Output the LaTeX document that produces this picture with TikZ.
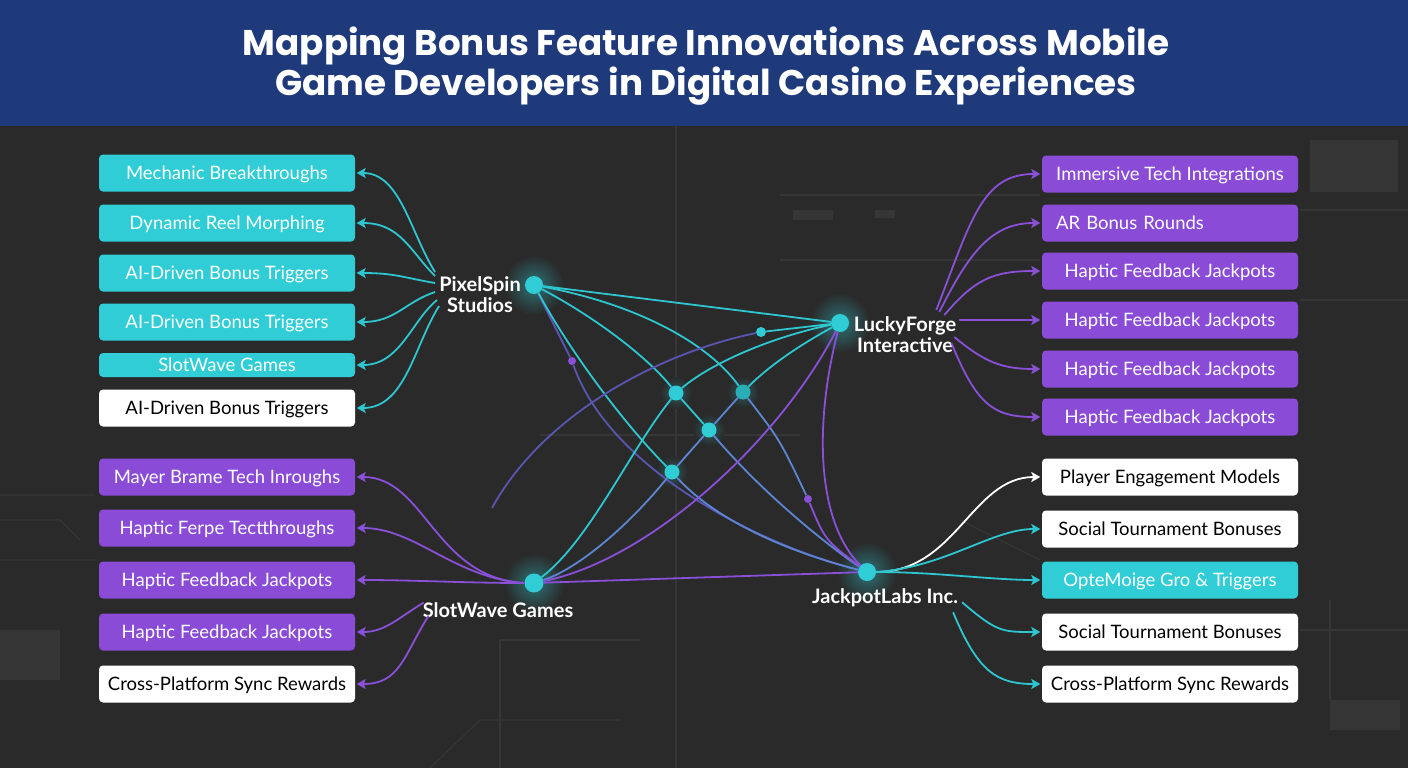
\documentclass[tikz,border=0pt]{standalone}
\usepackage{fontspec}
\setmainfont{Lato}
\newfontfamily\titlefont{Poppins}
\usetikzlibrary{arrows.meta,calc}
\definecolor{bg}{HTML}{2A2A2A}
\definecolor{banner}{HTML}{1F3A7A}
\definecolor{tealc}{HTML}{30CDD6}
\definecolor{purp}{HTML}{8A4CD6}
\definecolor{tline}{HTML}{2EC6D0}
\definecolor{pline}{HTML}{8A50D8}
\definecolor{bline}{HTML}{5C86D2}
\definecolor{dline}{HTML}{5A55B0}
\definecolor{faint}{HTML}{363636}
\begin{document}
\begin{tikzpicture}[x=1pt,y=-1pt,
 box/.style={rounded corners=4, minimum width=256, minimum height=37, inner sep=0, text height=13.3, text depth=0, font=\fontsize{18.5}{21}\selectfont},
 tbox/.style={box, fill=tealc, text=white},
 pbox/.style={box, fill=purp, text=white},
 wbox/.style={box, fill=white, text=black},
 hub/.style={circle, fill=tealc, minimum size=18, inner sep=0},
 mid/.style={circle, fill=tealc, minimum size=15, inner sep=0},
 sdot/.style={circle, minimum size=8, inner sep=0},
 hlabel/.style={font=\bfseries\fontsize{20}{21}\selectfont, text=white, align=center, inner sep=1},
 conn/.style={line width=1.8, -{Stealth[length=9,width=10,inset=2]}, shorten >=1.5},
 web/.style={line width=1.8},
 deco/.style={faint, line width=1.2},
]
\useasboundingbox (0,0) rectangle (1408,768);
\fill[bg] (0,0) rectangle (1408,768);
% faint background circuitry
\draw[deco] (676,126) -- (676,768);
\draw[deco] (540,435) -- (800,435);
\draw[deco] (0,495) -- (95,495) (0,520) -- (60,520) -- (80,540) (0,560) -- (95,560);
\draw[deco] (500,640) -- (500,768) (500,640) -- (640,640);
\draw[deco] (780,195) -- (1040,195) (780,260) -- (1040,260);
\draw[deco] (1300,210) -- (1408,210) (1300,300) -- (1408,300);
\draw[deco] (1300,630) -- (1408,630) (1330,600) -- (1330,700);
\draw[deco] (430,768) -- (480,720) -- (620,720);
\draw[deco] (960,520) .. controls (1000,540) .. (1040,560);
\fill[faint] (1310,140) rectangle (1398,192);
\fill[faint] (793,210) rectangle (833,220);
\fill[faint] (875,210) rectangle (895,218);
\fill[faint] (0,630) rectangle (60,680);
\fill[faint] (1330,700) rectangle (1400,730);
% banner
\fill[banner] (0,0) rectangle (1408,126);
\node[text=white, font=\titlefont\bfseries\fontsize{35.7}{38}\selectfont, align=center] (title) at (706,66)
 {Mapping Bonus Feature Innovations Across Mobile\\Game Developers in Digital Casino Experiences};

% left boxes
\node[tbox] (l1) at (227,173) {Mechanic Breakthroughs};
\node[tbox] (l2) at (227,223) {Dynamic Reel Morphing};
\node[tbox] (l3) at (227,273) {AI-Driven Bonus Triggers};
\node[tbox] (l4) at (227,322) {AI-Driven Bonus Triggers};
\node[tbox, minimum height=24] (l5) at (227,365) {SlotWave Games};
\node[wbox] (l6) at (227,408) {AI-Driven Bonus Triggers};
\node[pbox] (b1) at (227,477) {Mayer Brame Tech Inroughs};
\node[pbox] (b2) at (227,528) {Haptic Ferpe Tectthroughs};
\node[pbox] (b3) at (227,580) {Haptic Feedback Jackpots};
\node[pbox] (b4) at (227,632) {Haptic Feedback Jackpots};
\node[wbox] (b5) at (227,684) {Cross-Platform Sync Rewards};
% right boxes
\node[pbox] (r1) at (1170,174) {Immersive Tech Integrations};
\node[pbox, text width=228, inner xsep=14, align=left] (r2) at (1170,223) {AR Bonus Rounds};
\node[pbox] (r3) at (1170,271) {Haptic Feedback Jackpots};
\node[pbox] (r4) at (1170,320) {Haptic Feedback Jackpots};
\node[pbox] (r5) at (1170,369) {Haptic Feedback Jackpots};
\node[pbox] (r6) at (1170,417) {Haptic Feedback Jackpots};
\node[wbox] (p1) at (1170,477) {Player Engagement Models};
\node[wbox] (p2) at (1170,529) {Social Tournament Bonuses};
\node[tbox] (p3) at (1170,580) {OpteMoige Gro \& Triggers};
\node[wbox] (p4) at (1170,632) {Social Tournament Bonuses};
\node[wbox] (p5) at (1170,684) {Cross-Platform Sync Rewards};

% glows
\foreach \p in {(534,285),(840,323),(534,583),(867,572)}
  \shade[inner color=tealc!45!bg, outer color=bg] \p circle (30);
\foreach \p in {(676,393),(743,392),(709,430),(672,472)}
  \shade[inner color=tealc!30!bg, outer color=bg] \p circle (16);

% hubs
\node[hub] (ps) at (534,285) {};
\node[hub] (lf) at (840,323) {};
\node[hub, minimum size=19] (sw) at (534,583) {};
\node[hub] (jl) at (867,572) {};
\node[hlabel] (psl) at (480,295) {PixelSpin\\Studios};
\node[hlabel] (lfl) at (905,335) {LuckyForge\\Interactive};
\node[hlabel, anchor=base] (swl) at (498,617) {SlotWave Games};
\node[hlabel, anchor=base] (jll) at (885,603) {JackpotLabs Inc.};
% intermediate dots
\node[mid] (d1) at (676,393) {};
\node[mid, fill=tealc!85!black] (d2) at (743,392) {};
\node[mid] (d3) at (709,430) {};
\node[mid] (d4) at (672,472) {};
\node[sdot, fill=tealc, minimum size=10] (st) at (761,332) {};
\node[sdot, fill=pline] (pp1) at (572,361) {};
\node[sdot, fill=pline] (pp2) at (808,499) {};
\coordinate (fe) at (492,508);

% web
\draw[web, tline] (ps) -- (lf);
\draw[web, dline] (ps) -- (pp1);
\draw[web, dline] (pp1) .. controls (610,470) and (760,545) .. (jl);
\draw[web, tline] (ps) .. controls (575,360) and (630,430) .. (d4);
\draw[web, bline] (d4) .. controls (720,525) and (800,555) .. (jl);
\draw[web, tline] (ps) .. controls (600,320) and (650,360) .. (d1);
\draw[web, tline] (d1) -- (d3);
\draw[web, bline] (d3) .. controls (760,490) and (820,540) .. (jl);
\draw[web, tline] (ps) .. controls (640,305) and (710,345) .. (d2);
\draw[web, bline] (d2) .. controls (780,440) .. (pp2);
\draw[web, pline] (pp2) .. controls (825,540) .. (jl);
\draw[web, tline] (lf) -- (st);
\draw[web, dline] (st) .. controls (650,355) and (540,420) .. (fe);
\draw[web, tline] (lf) .. controls (780,335) and (715,360) .. (d1);
\draw[web, tline] (d1) .. controls (630,450) and (590,540) .. (sw);
\draw[web, tline] (lf) .. controls (800,345) and (770,365) .. (d2);
\draw[web, bline] (d2) -- (d3);
\draw[web, bline] (d3) -- (d4);
\draw[web, bline] (d4) .. controls (625,530) and (575,570) .. (sw);
\draw[web, pline] (lf) .. controls (815,420) and (815,520) .. (jl);
\draw[web, pline] (lf) .. controls (780,440) and (650,560) .. (sw);
\draw[web, pline] (sw) -- (jl);

% PixelSpin fan
\draw[conn, tline] ($(psl.west)+(-3,-23)$) .. controls +(-25,-40) and +(45,0) .. (l1.east);
\draw[conn, tline] ($(psl.west)+(-3,-19)$) .. controls +(-25,-25) and +(45,0) .. (l2.east);
\draw[conn, tline] ($(psl.west)+(-3,-12)$) .. controls +(-30,-5) and +(40,0) .. (l3.east);
\draw[conn, tline] ($(psl.west)+(-3,-3)$) .. controls +(-30,10) and +(40,0) .. (l4.east);
\draw[conn, tline] ($(psl.west)+(-1,5)$) .. controls +(-25,20) and +(45,0) .. (l5.east);
\draw[conn, tline] ($(psl.west)+(1,11)$) .. controls +(-25,40) and +(50,0) .. (l6.east);
% SlotWave fan
\draw[conn, pline] (sw.west) .. controls +(-90,-5) and +(70,0) .. (b1.east);
\draw[conn, pline] (sw.west) .. controls +(-70,-5) and +(60,0) .. (b2.east);
\draw[conn, pline] (sw.west) .. controls +(-60,0) and +(60,0) .. (b3.east);
\draw[conn, pline] ($(swl.west)+(2,-7)$) .. controls +(-25,15) and +(30,0) .. (b4.east);
\draw[conn, pline] ($(swl.west)+(7,6)$) .. controls +(-25,40) and +(45,0) .. (b5.east);
% LuckyForge fan
\draw[conn, pline] ($(lfl.east)+(-21,-25)$) .. controls +(35,-90) and +(-60,0) .. (r1.west);
\draw[conn, pline] ($(lfl.east)+(-18,-23)$) .. controls +(30,-60) and +(-50,0) .. (r2.west);
\draw[conn, pline] ($(lfl.east)+(-13,-20)$) .. controls +(30,-35) and +(-50,0) .. (r3.west);
\draw[conn, pline] ($(lfl.east)+(2,-15)$) -- (r4.west);
\draw[conn, pline] ($(lfl.east)+(-3,2)$) .. controls +(30,25) and +(-40,0) .. (r5.west);
\draw[conn, pline] ($(lfl.east)+(-6,8)$) .. controls +(25,60) and +(-50,0) .. (r6.west);
% JackpotLabs fan
\draw[conn, white] (jl.east) .. controls +(80,0) and +(-70,0) .. (p1.west);
\draw[conn, tline] (jl.east) .. controls +(70,-5) and +(-50,0) .. (p2.west);
\draw[conn, tline] (jl.east) .. controls +(60,0) and +(-50,0) .. (p3.west);
\draw[conn, tline] ($(jll.east)+(3,5)$) .. controls +(35,30) and +(-40,0) .. (p4.west);
\draw[conn, tline] ($(jll.east)+(-6,15)$) .. controls +(25,60) and +(-45,0) .. (p5.west);
\end{tikzpicture}
\end{document}
